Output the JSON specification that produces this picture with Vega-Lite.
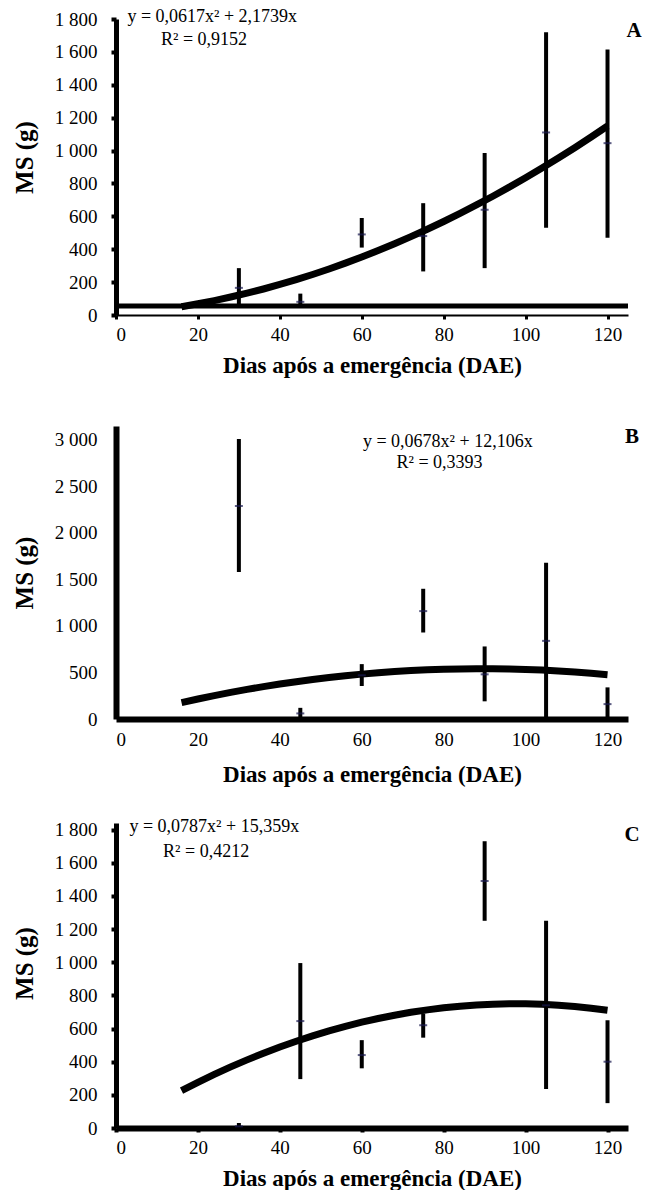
{
  "$schema": "https://vega.github.io/schema/vega-lite/v6.json",
  "padding": {"left": 12, "top": 8, "right": 0, "bottom": 0},
  "config": {
    "view": {"stroke": null},
    "font": "Liberation Serif",
    "axis": {"grid": false, "domainColor": "black", "tickColor": "black", "labelColor": "black", "titleColor": "black", "labelFont": "Liberation Serif", "titleFont": "Liberation Serif", "labelFontSize": 19, "titleFontWeight": "bold", "labelOverlap": false},
    "axisY": {"labelPadding": 14, "titlePadding": 17, "titleFontSize": 25},
    "axisX": {"labelPadding": 6, "titlePadding": 10, "titleFontSize": 23},
    "text": {"font": "Liberation Serif", "color": "black"}
  },
  "datasets": {
    "one": [{"k": 1}],
    "a": [
      {"dae": 30, "ms": 165, "lo": 60, "hi": 285},
      {"dae": 45, "ms": 80, "lo": 60, "hi": 130},
      {"dae": 60, "ms": 490, "lo": 410, "hi": 590},
      {"dae": 75, "ms": 480, "lo": 265, "hi": 680},
      {"dae": 90, "ms": 640, "lo": 285, "hi": 985},
      {"dae": 105, "ms": 1110, "lo": 530, "hi": 1720},
      {"dae": 120, "ms": 1045, "lo": 470, "hi": 1615}
    ],
    "b": [
      {"dae": 30, "ms": 2290, "lo": 1580, "hi": 3010},
      {"dae": 45, "ms": 60, "lo": 0, "hi": 120},
      {"dae": 60, "ms": 470, "lo": 355, "hi": 590},
      {"dae": 75, "ms": 1160, "lo": 930, "hi": 1400},
      {"dae": 90, "ms": 480, "lo": 190, "hi": 780},
      {"dae": 105, "ms": 840, "lo": 0, "hi": 1680},
      {"dae": 120, "ms": 160, "lo": 0, "hi": 340}
    ],
    "c": [
      {"dae": 30, "ms": 10, "lo": 0, "hi": 30},
      {"dae": 45, "ms": 645, "lo": 295, "hi": 995},
      {"dae": 60, "ms": 440, "lo": 360, "hi": 530},
      {"dae": 75, "ms": 620, "lo": 545, "hi": 690},
      {"dae": 90, "ms": 1490, "lo": 1250, "hi": 1730},
      {"dae": 105, "ms": 740, "lo": 235, "hi": 1250},
      {"dae": 120, "ms": 400, "lo": 150, "hi": 650}
    ],
    "ca": [
      {"dae": 16, "ms": 50.6}, {"dae": 20, "ms": 68.2}, {"dae": 24, "ms": 87.7}, {"dae": 28, "ms": 109.2},
      {"dae": 32, "ms": 132.7}, {"dae": 36, "ms": 158.2}, {"dae": 40, "ms": 185.7}, {"dae": 44, "ms": 215.1},
      {"dae": 48, "ms": 246.5}, {"dae": 52, "ms": 279.9}, {"dae": 56, "ms": 315.2}, {"dae": 60, "ms": 352.6},
      {"dae": 64, "ms": 391.9}, {"dae": 68, "ms": 433.1}, {"dae": 72, "ms": 476.4}, {"dae": 76, "ms": 521.6},
      {"dae": 80, "ms": 568.8}, {"dae": 84, "ms": 618.0}, {"dae": 88, "ms": 669.1}, {"dae": 92, "ms": 722.2},
      {"dae": 96, "ms": 777.3}, {"dae": 100, "ms": 834.4}, {"dae": 104, "ms": 893.4}, {"dae": 108, "ms": 954.5},
      {"dae": 112, "ms": 1017.4}, {"dae": 116, "ms": 1082.4}, {"dae": 120, "ms": 1149.4}
    ],
    "cb": [
      {"dae": 16, "ms": 176.3}, {"dae": 20, "ms": 215.0}, {"dae": 24, "ms": 251.5}, {"dae": 28, "ms": 285.8},
      {"dae": 32, "ms": 318.0}, {"dae": 36, "ms": 348.0}, {"dae": 40, "ms": 375.8}, {"dae": 44, "ms": 401.4},
      {"dae": 48, "ms": 424.9}, {"dae": 52, "ms": 446.2}, {"dae": 56, "ms": 465.3}, {"dae": 60, "ms": 482.3},
      {"dae": 64, "ms": 497.1}, {"dae": 68, "ms": 509.7}, {"dae": 72, "ms": 520.2}, {"dae": 76, "ms": 528.5},
      {"dae": 80, "ms": 534.6}, {"dae": 84, "ms": 538.5}, {"dae": 88, "ms": 540.3}, {"dae": 92, "ms": 539.9},
      {"dae": 96, "ms": 537.3}, {"dae": 100, "ms": 532.6}, {"dae": 104, "ms": 525.7}, {"dae": 108, "ms": 516.6},
      {"dae": 112, "ms": 505.4}, {"dae": 116, "ms": 492.0}, {"dae": 120, "ms": 476.4}
    ],
    "cc": [
      {"dae": 16, "ms": 225.6}, {"dae": 20, "ms": 275.7}, {"dae": 24, "ms": 323.3}, {"dae": 28, "ms": 368.4},
      {"dae": 32, "ms": 410.9}, {"dae": 36, "ms": 450.9}, {"dae": 40, "ms": 488.4}, {"dae": 44, "ms": 523.4},
      {"dae": 48, "ms": 555.9}, {"dae": 52, "ms": 585.9}, {"dae": 56, "ms": 613.3}, {"dae": 60, "ms": 638.2},
      {"dae": 64, "ms": 660.6}, {"dae": 68, "ms": 680.5}, {"dae": 72, "ms": 697.9}, {"dae": 76, "ms": 712.7},
      {"dae": 80, "ms": 725.0}, {"dae": 84, "ms": 734.9}, {"dae": 88, "ms": 742.1}, {"dae": 92, "ms": 746.9},
      {"dae": 96, "ms": 749.2}, {"dae": 100, "ms": 748.9}, {"dae": 104, "ms": 746.1}, {"dae": 108, "ms": 740.8},
      {"dae": 112, "ms": 733.0}, {"dae": 116, "ms": 722.7}, {"dae": 120, "ms": 709.8}
    ]
  },
  "bounds": "flush",
  "spacing": 111,
  "vconcat": [
    {
      "width": 512,
      "height": 296,
      "encoding": {
        "x": {"type": "quantitative", "scale": {"domain": [0, 125], "nice": false}, "title": "Dias após a emergência (DAE)",
              "axis": {"values": [0, 20, 40, 60, 80, 100, 120], "domainWidth": 2, "tickSize": 4, "tickWidth": 3, "labelOverlap": false}},
        "y": {"type": "quantitative", "scale": {"domain": [0, 1800], "nice": false}, "title": "MS (g)",
              "axis": {"values": [0, 200, 400, 600, 800, 1000, 1200, 1400, 1600, 1800], "domainWidth": 5, "tickSize": 5, "tickWidth": 4, "labelOverlap": false, "titleY": 138,
                       "labelExpr": "replace(format(datum.value, ','), ',', ' ')"}}
      },
      "layer": [
        {
          "data": {"name": "ca"},
          "mark": {"type": "line", "color": "black", "strokeWidth": 7, "strokeCap": "butt"},
          "encoding": {"x": {"field": "dae"}, "y": {"field": "ms"}}
        },
        {
          "data": {"name": "one"},
          "mark": {"type": "rule", "color": "black", "strokeWidth": 5},
          "encoding": {"x": {"datum": 0}, "x2": {"datum": 125}, "y": {"datum": 55}}
        },
        {
          "data": {"name": "a"},
          "mark": {"type": "rule", "color": "black", "strokeWidth": 4},
          "encoding": {"x": {"field": "dae"}, "y": {"field": "lo"}, "y2": {"field": "hi"}}
        },
        {
          "data": {"name": "a"},
          "mark": {"type": "tick", "orient": "horizontal", "color": "#1a1a50", "size": 8, "thickness": 2},
          "encoding": {"x": {"field": "dae"}, "y": {"field": "ms"}}
        },
        {
          "data": {"name": "one"},
          "mark": {"type": "text", "fontSize": 18, "align": "center", "baseline": "middle"},
          "encoding": {"x": {"datum": 23.5}, "y": {"datum": 1810}, "text": {"value": "y = 0,0617x² + 2,1739x"}}
        },
        {
          "data": {"name": "one"},
          "mark": {"type": "text", "fontSize": 18, "align": "center", "baseline": "middle"},
          "encoding": {"x": {"datum": 21.5}, "y": {"datum": 1670}, "text": {"value": "R² = 0,9152"}}
        },
        {
          "data": {"name": "one"},
          "mark": {"type": "text", "fontSize": 21, "fontWeight": "bold", "align": "center", "baseline": "middle"},
          "encoding": {"x": {"datum": 126.5}, "y": {"datum": 1730}, "text": {"value": "A"}}
        }
      ]
    },
    {
      "bounds": "flush",
      "spacing": 104,
      "vconcat": [
        {
          "width": 512,
          "height": 293,
          "encoding": {
            "x": {"type": "quantitative", "scale": {"domain": [0, 125], "nice": false}, "title": "Dias após a emergência (DAE)",
                  "axis": {"values": [0, 20, 40, 60, 80, 100, 120], "domainWidth": 6, "ticks": false, "labelPadding": 11, "titlePadding": 14, "labelOverlap": false}},
            "y": {"type": "quantitative", "scale": {"domain": [0, 3150], "nice": false}, "title": "MS (g)",
                  "axis": {"values": [0, 500, 1000, 1500, 2000, 2500, 3000], "domainWidth": 6, "ticks": false, "labelPadding": 19, "labelOverlap": false,
                           "labelExpr": "replace(format(datum.value, ','), ',', ' ')"}}
          },
          "layer": [
            {
              "data": {"name": "cb"},
              "mark": {"type": "line", "color": "black", "strokeWidth": 7, "strokeCap": "butt"},
              "encoding": {"x": {"field": "dae"}, "y": {"field": "ms"}}
            },
            {
              "data": {"name": "b"},
              "mark": {"type": "rule", "color": "black", "strokeWidth": 4},
              "encoding": {"x": {"field": "dae"}, "y": {"field": "lo"}, "y2": {"field": "hi"}}
            },
            {
              "data": {"name": "b"},
              "mark": {"type": "tick", "orient": "horizontal", "color": "#1a1a50", "size": 8, "thickness": 2},
              "encoding": {"x": {"field": "dae"}, "y": {"field": "ms"}}
            },
            {
              "data": {"name": "one"},
              "mark": {"type": "text", "fontSize": 18, "align": "center", "baseline": "middle"},
              "encoding": {"x": {"datum": 81}, "y": {"datum": 2980}, "text": {"value": "y = 0,0678x² + 12,106x"}}
            },
            {
              "data": {"name": "one"},
              "mark": {"type": "text", "fontSize": 18, "align": "center", "baseline": "middle"},
              "encoding": {"x": {"datum": 79}, "y": {"datum": 2750}, "text": {"value": "R² = 0,3393"}}
            },
            {
              "data": {"name": "one"},
              "mark": {"type": "text", "fontSize": 21, "fontWeight": "bold", "align": "center", "baseline": "middle"},
              "encoding": {"x": {"datum": 126}, "y": {"datum": 3030}, "text": {"value": "B"}}
            }
          ]
        },
        {
          "width": 512,
          "height": 305,
          "encoding": {
            "x": {"type": "quantitative", "scale": {"domain": [0, 125], "nice": false}, "title": "Dias após a emergência (DAE)",
                  "axis": {"values": [0, 20, 40, 60, 80, 100, 120], "domainWidth": 6, "tickSize": 4, "tickWidth": 4, "labelOverlap": false}},
            "y": {"type": "quantitative", "scale": {"domain": [0, 1840], "nice": false}, "title": "MS (g)",
                  "axis": {"values": [0, 200, 400, 600, 800, 1000, 1200, 1400, 1600, 1800], "domainWidth": 5, "tickSize": 5, "tickWidth": 4, "labelOverlap": false, "titleY": 140,
                           "labelExpr": "replace(format(datum.value, ','), ',', ' ')"}}
          },
          "layer": [
            {
              "data": {"name": "cc"},
              "mark": {"type": "line", "color": "black", "strokeWidth": 7, "strokeCap": "butt"},
              "encoding": {"x": {"field": "dae"}, "y": {"field": "ms"}}
            },
            {
              "data": {"name": "c"},
              "mark": {"type": "rule", "color": "black", "strokeWidth": 4},
              "encoding": {"x": {"field": "dae"}, "y": {"field": "lo"}, "y2": {"field": "hi"}}
            },
            {
              "data": {"name": "c"},
              "mark": {"type": "tick", "orient": "horizontal", "color": "#1a1a50", "size": 8, "thickness": 2},
              "encoding": {"x": {"field": "dae"}, "y": {"field": "ms"}}
            },
            {
              "data": {"name": "one"},
              "mark": {"type": "text", "fontSize": 18, "align": "center", "baseline": "middle"},
              "encoding": {"x": {"datum": 24}, "y": {"datum": 1815}, "text": {"value": "y = 0,0787x² + 15,359x"}}
            },
            {
              "data": {"name": "one"},
              "mark": {"type": "text", "fontSize": 18, "align": "center", "baseline": "middle"},
              "encoding": {"x": {"datum": 22}, "y": {"datum": 1665}, "text": {"value": "R² = 0,4212"}}
            },
            {
              "data": {"name": "one"},
              "mark": {"type": "text", "fontSize": 21, "fontWeight": "bold", "align": "center", "baseline": "middle"},
              "encoding": {"x": {"datum": 126}, "y": {"datum": 1765}, "text": {"value": "C"}}
            }
          ]
        }
      ]
    }
  ]
}
